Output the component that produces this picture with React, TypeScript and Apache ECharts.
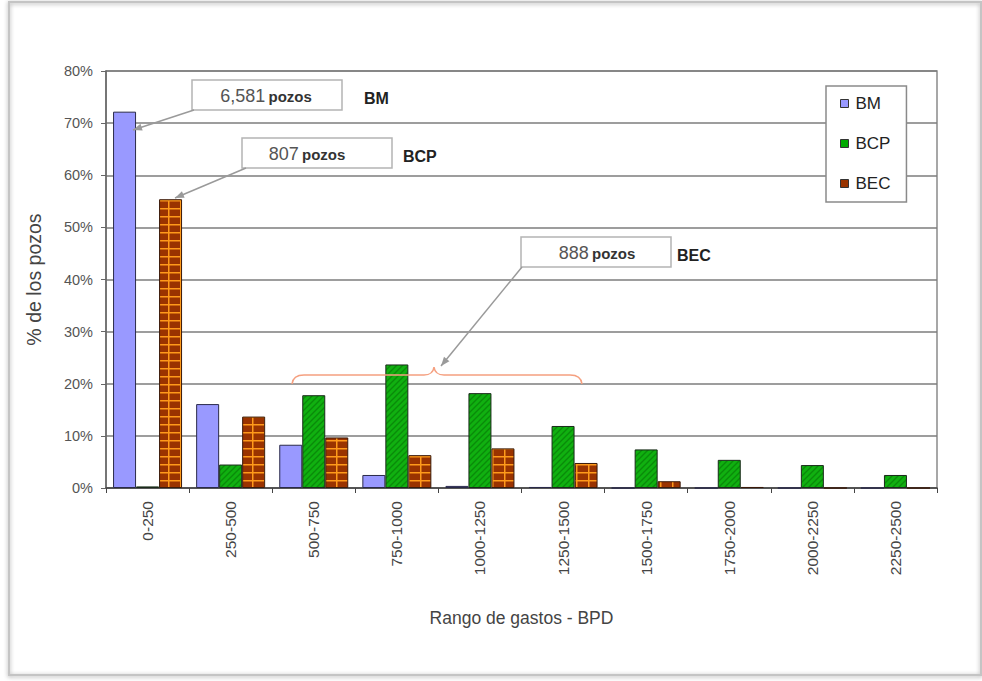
import React, { useEffect, useRef } from "react";
import * as echarts from "echarts";

const categories = ["0-250", "250-500", "500-750", "750-1000", "1000-1250", "1250-1500", "1500-1750", "1750-2000", "2000-2250", "2250-2500"];
const bmValues = [72.2, 16.1, 8.3, 2.5, 0.4, 0.2, 0, 0, 0, 0];
const bcpValues = [0.3, 4.5, 17.8, 23.7, 18.2, 11.9, 7.4, 5.4, 4.4, 2.5];
const becValues = [55.4, 13.7, 9.7, 6.3, 7.6, 4.8, 1.3, 0.2, 0, 0];
const seriesNames = ["BM", "BCP", "BEC"];
const yTicks = { min: 0, max: 80, interval: 10 };
const callouts = [
  { num: "6,581", label: "BM" },
  { num: "807", label: "BCP" },
  { num: "888", label: "BEC" },
];

const FONT = "'Liberation Sans', Arial, sans-serif";

function makeHatch() {
  const c = document.createElement("canvas");
  c.width = 6; c.height = 6;
  const g = c.getContext("2d")!;
  g.fillStyle = "#10B010";
  g.fillRect(0, 0, 6, 6);
  g.strokeStyle = "#0A8A0A";
  g.lineWidth = 1.3;
  g.beginPath();
  g.moveTo(-1, 7); g.lineTo(7, -1);
  g.moveTo(-4, 4); g.lineTo(4, -4);
  g.moveTo(2, 10); g.lineTo(10, 2);
  g.stroke();
  return c;
}

function makeBrick() {
  const c = document.createElement("canvas");
  c.width = 12; c.height = 8;
  const g = c.getContext("2d")!;
  g.fillStyle = "#FF9A1A";
  g.fillRect(0, 0, 12, 8);
  g.fillStyle = "#9A3300";
  g.fillRect(1.5, 1.5, 10.5, 6.5);
  return c;
}

function arrowHead(x1: number, y1: number, x2: number, y2: number) {
  const a = Math.atan2(y2 - y1, x2 - x1);
  const L = 9, W = 3.5;
  const bx = x2 - L * Math.cos(a), by = y2 - L * Math.sin(a);
  const px = -Math.sin(a) * W, py = Math.cos(a) * W;
  return [[x2, y2], [bx + px, by + py], [bx - px, by - py]];
}

function arrow(x1: number, y1: number, x2: number, y2: number) {
  return [
    { type: "line", z: 50, shape: { x1, y1, x2, y2 }, style: { stroke: "#9a9a9a", lineWidth: 1.5 } },
    { type: "polygon", z: 50, shape: { points: arrowHead(x1, y1, x2, y2) }, style: { fill: "#9a9a9a" } },
  ];
}

function callout(bx: number, by: number, bw: number, bh: number, cx: number, num: string, label: string, lx: number) {
  return [
    { type: "rect", z: 50, shape: { x: bx, y: by, width: bw, height: bh }, style: { fill: "#fff", stroke: "#b4b4b4", lineWidth: 1.5 } },
    {
      type: "text", z: 51, x: cx, y: by + bh / 2 + 1,
      style: {
        text: `{n|${num}} {p|pozos}`, align: "center", verticalAlign: "middle",
        rich: {
          n: { fontFamily: FONT, fontSize: 18, fill: "#555" },
          p: { fontFamily: FONT, fontSize: 15, fontWeight: "bold", fill: "#333" },
        },
      },
    },
    { type: "text", z: 51, x: lx, y: by + bh / 2 + 3, style: { text: label, fontFamily: FONT, fontSize: 16, fontWeight: "bold", fill: "#222", verticalAlign: "middle" } },
  ];
}

export default function App() {
  const ref = useRef<HTMLDivElement>(null);
  useEffect(() => {
    if (!ref.current) return;
    const braceD = "M292,384 Q293,375 304,375 L424,375 Q433,375 434,367 Q435,375 444,375 L570,375 Q581,375 582,384";
    echarts.graphic.registerShape("brace", echarts.graphic.extendPath(braceD, {}));
    const chart = echarts.init(ref.current, null, { renderer: "svg" });
    const hatch = { image: makeHatch(), repeat: "repeat" };
    const brick = { image: makeBrick(), repeat: "repeat" };
    const option: any = {
      animation: false,
      backgroundColor: "#fff",
      grid: { left: 106, top: 71, right: 45, bottom: 193, show: true, borderColor: "#8a8a8a", borderWidth: 1.5, backgroundColor: "#fff" },
      legend: {
        orient: "vertical", left: 826, top: 86,
        padding: [9, 16, 10, 14], itemGap: 23, itemWidth: 8, itemHeight: 8,
        backgroundColor: "#fff", borderColor: "#8a8a8a", borderWidth: 1.5,
        icon: "rect",
        textStyle: { fontFamily: FONT, fontSize: 17, color: "#222", padding: [0, 0, 0, 2] },
        data: [
          { name: seriesNames[0], itemStyle: { color: "#9999FF", borderColor: "#333", borderWidth: 1 } },
          { name: seriesNames[1], itemStyle: { color: "#00AA00", borderColor: "#333", borderWidth: 1 } },
          { name: seriesNames[2], itemStyle: { color: "#993300", borderColor: "#333", borderWidth: 1 } },
        ],
      },
      xAxis: {
        type: "category",
        data: categories,
        name: "Rango de gastos - BPD",
        nameLocation: "middle",
        nameGap: 121,
        nameTextStyle: { fontFamily: FONT, fontSize: 17.5, color: "#444" },
        axisLine: { lineStyle: { color: "#444", width: 1.5 } },
        axisTick: { show: true, length: 5, lineStyle: { color: "#444" } },
        axisLabel: { rotate: 90, margin: 13, fontFamily: FONT, fontSize: 15.5, color: "#444", interval: 0 },
      },
      yAxis: {
        type: "value",
        min: yTicks.min, max: yTicks.max, interval: yTicks.interval,
        name: "% de los pozos",
        nameLocation: "middle",
        nameRotate: 90,
        nameGap: 62,
        nameTextStyle: { fontFamily: FONT, fontSize: 19.5, color: "#444" },
        axisLine: { show: true, lineStyle: { color: "#666", width: 1.5 } },
        axisTick: { show: true, length: 5, lineStyle: { color: "#666" } },
        axisLabel: { formatter: "{value}%", margin: 13, fontFamily: FONT, fontSize: 14.5, color: "#555" },
        splitLine: { lineStyle: { color: "#7c7c7c", width: 1.6 } },
      },
      series: [
        { name: seriesNames[0], type: "bar", data: bmValues, barWidth: 23, barGap: "0%", itemStyle: { color: "#9999FF", borderColor: "#2a2a4a", borderWidth: 1 } },
        { name: seriesNames[1], type: "bar", data: bcpValues, barWidth: 23, barGap: "0%", itemStyle: { color: hatch, borderColor: "#1a2a1a", borderWidth: 1 } },
        { name: seriesNames[2], type: "bar", data: becValues, barWidth: 23, barGap: "0%", itemStyle: { color: brick, borderColor: "#3a1a0a", borderWidth: 1 } },
      ],
      graphic: [
        { type: "rect", z: -10, shape: { x: 9, y: 2, width: 972, height: 673 }, style: { fill: "none", stroke: "#c4c4c4", lineWidth: 2, shadowBlur: 4, shadowColor: "rgba(0,0,0,0.35)", shadowOffsetY: 1 } },
        ...callout(192, 80, 150, 30, 266, callouts[0].num, callouts[0].label, 364),
        ...arrow(194, 110, 133, 130),
        ...callout(242, 138, 150, 30, 307, callouts[1].num, callouts[1].label, 403),
        ...arrow(246, 168, 175, 198),
        ...callout(521, 237, 150, 30, 597, callouts[2].num, callouts[2].label, 677),
        ...arrow(522, 267, 441, 366),
        { type: "brace", z: 49, x: 0, y: 0, style: { fill: "none", stroke: "#F5A080", lineWidth: 1.5 } },
      ],
    };
    chart.setOption(option);
    return () => chart.dispose();
  }, []);
  return <div ref={ref} style={{ position: "fixed", left: 0, top: 0, width: 982, height: 681 }} />;
}
